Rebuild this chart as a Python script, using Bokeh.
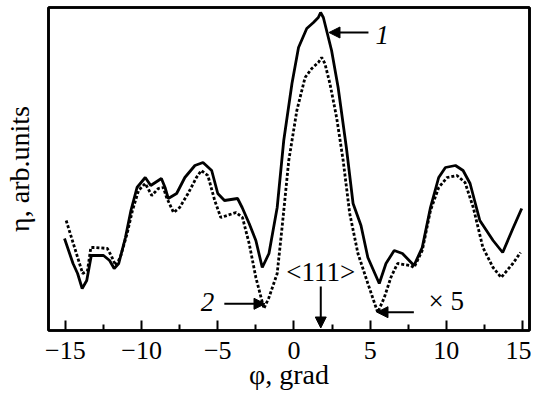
from bokeh.plotting import figure
from bokeh.models import Range1d, FixedTicker, Label, Arrow, NormalHead, LinearAxis
from bokeh.embed import file_html
from bokeh.resources import INLINE

# Curve 1 (solid)
x1 = [-15.06, -14.5, -14.2, -13.9, -13.6, -13.3, -12.5, -12.1, -11.8, -11.5, -11.06, -10.7,
      -10.3, -9.76, -9.4, -9.1, -8.7, -8.46, -8.25, -7.7, -7.16, -6.5, -5.97, -5.4, -5.0,
      -4.56, -3.7, -3.4, -2.94, -2.5, -2.08, -1.64, -1.1, -0.67, -0.13, 0.3, 0.84, 1.28,
      1.6, 1.75, 1.93, 2.47, 2.9, 3.44, 3.88, 4.4, 4.85, 5.6, 6.04, 6.58, 7.12, 7.88, 8.42,
      8.96, 9.5, 9.94, 10.6, 11.1, 11.56, 12.2, 13.07, 13.7, 14.37, 14.95]
y1 = [92, 67, 57, 42, 50, 75, 75, 70, 62, 67, 93, 120,
      143, 153, 145, 148, 152, 143, 132, 137, 153, 165, 168, 160, 137,
      130, 132, 123, 107, 90, 63, 77, 123, 190, 247, 283, 302, 308,
      313, 318, 313, 280, 243, 183, 127, 105, 73, 47, 67, 80, 77, 65, 83,
      123, 153, 163, 165, 160, 147, 110, 90, 78, 102, 122]

# Curve 2 (dotted, x5)
x2 = [-14.95, -14.4, -13.87, -13.55, -13.33, -13.0, -12.25, -12.0, -11.7, -11.4, -10.95,
      -10.6, -10.2, -9.76, -9.33, -8.9, -8.57, -8.36, -7.9, -7.5, -6.95, -6.4, -6.08, -5.65,
      -5.2, -4.8, -3.8, -3.38, -2.94, -2.5, -1.97, -1.64, -1.1, -0.78, -0.34, 0.19, 0.73,
      1.17, 1.6, 1.82, 2.03, 2.36, 2.8, 3.23, 3.66, 4.2, 4.85, 5.5, 5.93, 6.36, 6.8, 7.66,
      7.88, 8.42, 8.96, 9.5, 10.05, 10.7, 11.23, 11.77, 12.4, 13.07, 13.6, 14.37, 14.87]
y2 = [110, 83, 57, 60, 83, 83, 82, 75, 65, 73, 97,
      120, 140, 147, 135, 142, 143, 133, 118, 123, 137, 153, 160, 155,
      130, 113, 118, 113, 87, 53, 22, 33, 57, 103, 170, 220, 253,
      262, 268, 273, 267, 247, 213, 170, 117, 77, 47, 18, 33, 53, 67, 65,
      63, 80, 120, 143, 153, 155, 148, 123, 83, 63, 53, 67, 78]

x_ticks = [-15, -10, -5, 0, 5, 10, 15]
x_tick_labels = ["\u221215", "\u221210", "\u22125", "0", "5", "10", "15"]
x_label = "\u03c6, grad"
y_label = "\u03b7, arb.units"

FONT = "Liberation Serif"

p = figure(width=531, height=394, output_backend="svg", toolbar_location=None,
           x_range=Range1d(-16.11, 15.46), y_range=Range1d(0, 323),
           min_border_left=45, min_border_right=2, min_border_top=7, min_border_bottom=64)
p.background_fill_color = "white"
p.border_fill_color = "white"
p.outline_line_color = "black"
p.outline_line_width = 2.6
p.xgrid.visible = False
p.ygrid.visible = False

xa = p.below[0]
ya = p.left[0]

# plain axes above and right to close the frame box
for side in ("above", "right"):
    ax = LinearAxis(ticker=FixedTicker(ticks=[]), major_label_text_font_size="0px",
                    major_tick_in=0, major_tick_out=0, minor_tick_in=0, minor_tick_out=0,
                    major_label_standoff=0, axis_line_width=2.6, axis_line_color="black")
    p.add_layout(ax, side)

p.line(x1, y1, line_color="black", line_width=2.8)
p.line(x2, y2, line_color="black", line_width=2.8, line_dash="3 2")

xa.ticker = FixedTicker(ticks=x_ticks, minor_ticks=[t + 2.5 for t in x_ticks[:-1]])
xa.major_label_overrides = {t: l for t, l in zip(x_ticks, x_tick_labels)}
xa.major_tick_in = 10
xa.major_tick_out = 0
xa.minor_tick_in = 6
xa.minor_tick_out = 0
xa.major_tick_line_width = 2
xa.minor_tick_line_width = 2
xa.axis_line_width = 2.6
xa.major_label_text_font = FONT
xa.major_label_text_font_size = "26px"
xa.major_label_text_color = "black"
xa.major_label_standoff = 11
xa.axis_label = x_label
xa.axis_label_text_font = FONT
xa.axis_label_text_font_size = "28px"
xa.axis_label_text_font_style = "normal"
xa.axis_label_text_color = "black"
xa.axis_label_standoff = -3

ya.ticker = FixedTicker(ticks=[])
ya.major_tick_in = 0
ya.major_tick_out = 0
ya.minor_tick_in = 0
ya.minor_tick_out = 0
ya.major_label_text_font_size = "0px"
ya.major_label_standoff = 0
ya.axis_line_width = 2.6
ya.axis_label = y_label
ya.axis_label_text_font = FONT
ya.axis_label_text_font_size = "28px"
ya.axis_label_text_font_style = "normal"
ya.axis_label_text_color = "black"
ya.axis_label_standoff = 14

def lab(text, x, y, italic=False, size="27px"):
    p.add_layout(Label(x=x, y=y, text=text, text_font=FONT, text_font_size=size,
                       text_font_style="italic" if italic else "normal",
                       text_align="center", text_baseline="middle", text_color="black"))

def arr(xs, ys, xe, ye):
    p.add_layout(Arrow(end=NormalHead(size=11, fill_color="black", line_color="black", line_width=1),
                       x_start=xs, y_start=ys, x_end=xe, y_end=ye,
                       line_width=2, line_color="black"))

lab("1", 5.8, 296, italic=True)
arr(4.89, 298, 2.3, 298)
lab("2", -5.67, 29, italic=True)
arr(-4.57, 26.7, -1.9, 26.7)
lab("<111>", 1.76, 59)
arr(1.76, 44, 1.76, 2.5)
lab("\u00d7 5", 10.0, 30)
arr(7.87, 18.3, 5.45, 18.3)

open("out.html", "w").write(file_html(p, INLINE))
